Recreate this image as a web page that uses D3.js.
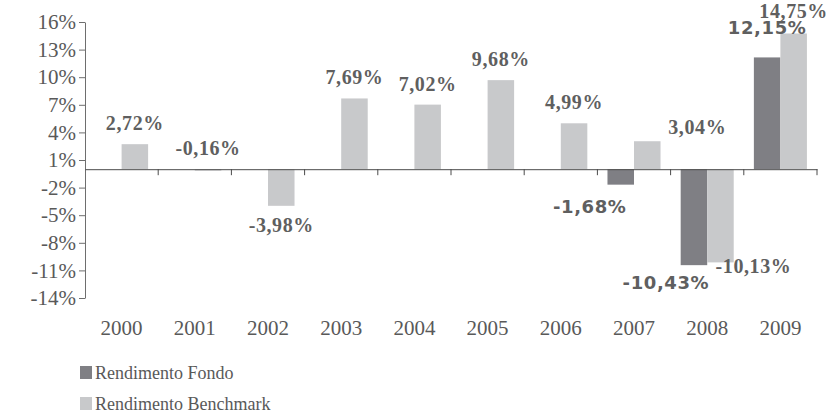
<!DOCTYPE html>
<html>
<head>
<meta charset="utf-8">
<script src="https://cdn.jsdelivr.net/npm/d3@7"></script>
<style>
  body { margin: 0; background: #fff; }
  svg { display: block; }
</style>
</head>
<body>
<div id="chart"></div>
<script>
// data
const years = ["2000", "2001", "2002", "2003", "2004", "2005", "2006", "2007", "2008", "2009"];
const fondo = [null, null, null, null, null, null, null, -1.68, -10.43, 12.15];
const benchmark = [2.72, -0.16, -3.98, 7.69, 7.02, 9.68, 4.99, 3.04, -10.13, 14.75];
const yTicks = [16, 13, 10, 7, 4, 1, -2, -5, -8, -11, -14];
const seriesNames = ["Rendimento Fondo", "Rendimento Benchmark"];

// hand placed labels in the original (pixel nudges)
const labelNudge = {
    "bench-2007": [50, 7],
    "bench-2008": [33, -15],
    "bench-2009": [0, -2],
    "fondo-2007": [-31, 2],
    "fondo-2008": [-28, -2],
    "fondo-2009": [0, -9]
};

const dimensions = {
    width: 831,
    height: 414,
    margin: { top: 22, right: 14, bottom: 116, left: 85 }
};

const colors = { fondo: "#7f7f84", bench: "#c8c9cb" };
const textColor = "#595959";

const svg = d3.select("#chart").append("svg")
    .attr("width", dimensions.width)
    .attr("height", dimensions.height);

const xScale = d3.scaleBand()
    .domain(years)
    .range([dimensions.margin.left, dimensions.width - dimensions.margin.right])
    .padding(0);

const subScale = d3.scaleBand()
    .domain(["fondo", "bench"])
    .range([0, xScale.bandwidth()])
    .paddingInner(0)
    .paddingOuter(0.38);

const yScale = d3.scaleLinear()
    .domain([-14, 16])
    .range([dimensions.height - dimensions.margin.bottom, dimensions.margin.top]);

// comma decimals, plain hyphen for minus
const locale = d3.formatLocale({ decimal: ",", thousands: ".", grouping: [3], currency: ["", "€"], minus: "-" });
const fmt = v => locale.format(".2f")(v) + "%";

// rows for bars
const rows = [];
years.forEach((y, i) => {
    if (fondo[i] !== null) rows.push({ key: "fondo", year: y, value: fondo[i] });
    if (benchmark[i] !== null) rows.push({ key: "bench", year: y, value: benchmark[i] });
});

// bars
svg.append("g").selectAll("rect")
    .data(rows)
    .join("rect")
    .attr("x", d => xScale(d.year) + subScale(d.key))
    .attr("width", subScale.bandwidth())
    .attr("y", d => yScale(Math.max(0, d.value)))
    .attr("height", d => Math.abs(yScale(d.value) - yScale(0)))
    .attr("fill", d => colors[d.key]);

// y axis
const yAxis = svg.append("g")
    .attr("transform", `translate(${dimensions.margin.left},0)`)
    .call(d3.axisLeft(yScale).tickValues(yTicks).tickSize(6).tickSizeOuter(0).tickFormat(d => d + "%"));
yAxis.select(".domain").attr("stroke", "#6e6e6e");
yAxis.selectAll(".tick line").attr("stroke", "#6e6e6e");
yAxis.selectAll(".tick text")
    .attr("x", -9)
    .attr("fill", textColor)
    .style("font-family", "'Liberation Serif', 'Times New Roman', serif")
    .style("font-size", "21px");

// x axis on the zero line
const xAxis = svg.append("g")
    .attr("transform", `translate(0,${yScale(0)})`)
    .call(d3.axisBottom(xScale).tickSize(6).tickSizeOuter(0).tickFormat(""));
xAxis.select(".domain").attr("stroke", "#4a4a4a");
// ticks at category boundaries
xAxis.selectAll(".tick line")
    .attr("stroke", "#4a4a4a")
    .attr("x1", xScale.bandwidth() / 2)
    .attr("x2", xScale.bandwidth() / 2);

// year labels at the bottom
svg.append("g").selectAll("text")
    .data(years)
    .join("text")
    .attr("x", d => xScale(d) + xScale.bandwidth() / 2)
    .attr("y", 335)
    .attr("text-anchor", "middle")
    .attr("fill", textColor)
    .style("font-family", "'Liberation Serif', 'Times New Roman', serif")
    .style("font-size", "21px")
    .text(d => d);

// value labels
svg.append("g").selectAll("text")
    .data(rows)
    .join("text")
    .attr("x", d => {
        const n = labelNudge[d.key + "-" + d.year] || [0, 0];
        return xScale(d.year) + subScale(d.key) + subScale.bandwidth() / 2 + n[0];
    })
    .attr("y", d => {
        const n = labelNudge[d.key + "-" + d.year] || [0, 0];
        const base = (d.value > -1)
            ? yScale(Math.max(0, d.value)) - 14
            : yScale(d.value) + 26;
        return base + n[1];
    })
    .attr("text-anchor", "middle")
    .attr("fill", "#5f5f5f")
    .style("font-weight", "bold")
    .style("font-family", d => d.key === "fondo"
        ? "'DejaVu Sans', Verdana, sans-serif"
        : "'Liberation Serif', 'Times New Roman', serif")
    .style("font-size", d => d.key === "fondo" ? "18px" : "20px")
    .style("letter-spacing", "0.6px")
    .text(d => fmt(d.value));

// legend
const legend = svg.append("g")
    .selectAll("g")
    .data(seriesNames)
    .join("g")
    .attr("transform", (d, i) => `translate(80,${366 + i * 31})`);

legend.append("rect")
    .attr("width", 12)
    .attr("height", 13)
    .attr("fill", (d, i) => i === 0 ? colors.fondo : colors.bench);

legend.append("text")
    .attr("x", 15)
    .attr("y", 13)
    .attr("fill", textColor)
    .style("font-family", "'Liberation Serif', 'Times New Roman', serif")
    .style("font-size", "18px")
    .text(d => d);
</script>
</body>
</html>
